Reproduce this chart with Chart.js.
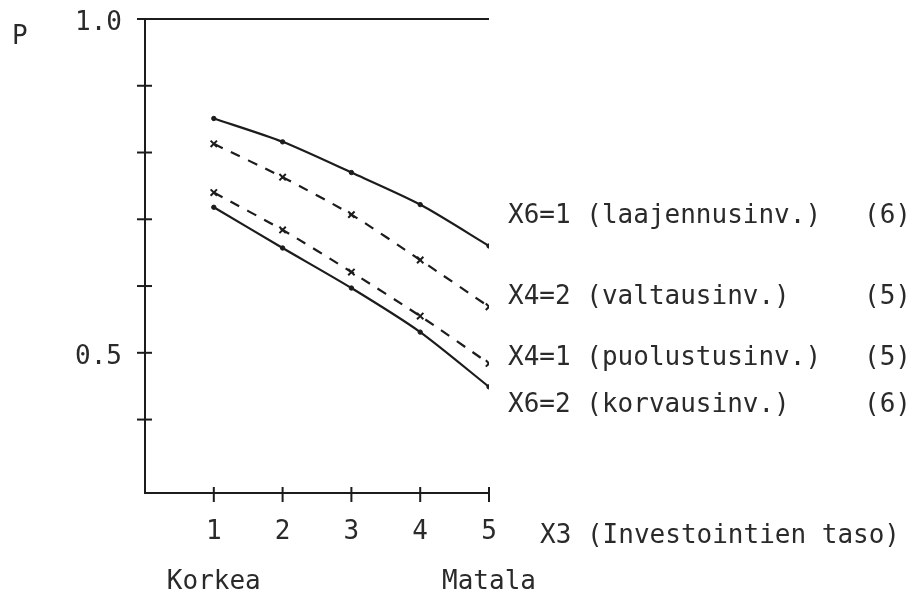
<!DOCTYPE html>
<html>
<head>
<meta charset="utf-8">
<script src="https://cdn.jsdelivr.net/npm/chart.js@4/dist/chart.umd.min.js"></script>
<style>
  html, body { margin: 0; padding: 0; background: #ffffff; }
  #wrap { width: 922px; height: 595px; position: relative; }
</style>
</head>
<body>
<div id="wrap"><canvas id="c"></canvas></div>
<script>
// ---- data ----
const xValues = [1, 2, 3, 4, 5];
const xTickLabels = ['1', '2', '3', '4', '5'];
const yTicks = [0.4, 0.5, 0.6, 0.7, 0.8, 0.9, 1.0];
const yTickLabels = ['', '0.5', '', '', '', '', '1.0'];

const seriesNames = ['X6=1 (laajennusinv.)', 'X4=2 (valtausinv.)', 'X4=1 (puolustusinv.)', 'X6=2 (korvausinv.)'];
const seriesCounts = ['(6)', '(5)', '(5)', '(6)'];
const x6eq1 = [0.851, 0.816, 0.770, 0.722, 0.660];
const x4eq2 = [0.813, 0.763, 0.707, 0.639, 0.569];
const x4eq1 = [0.740, 0.684, 0.621, 0.555, 0.484];
const x6eq2 = [0.718, 0.657, 0.597, 0.531, 0.449];

const yAxisTitle = 'P';
const xAxisTitle = 'X3 (Investointien taso)';
const xEndLabels = ['Korkea', 'Matala'];

// ---- styling / layout ----
const INK = '#1c1c1c';
const TEXT = '#2a2a2a';
const FONT = '"DejaVu Sans Mono", "Liberation Mono", monospace';
const FSIZE = 26;

function pts(ys) { return xValues.map((x, i) => ({ x: x, y: ys[i] })); }

const textPlugin = {
  id: 'textNotes',
  afterDraw(chart) {
    const ctx = chart.ctx;
    const xs = chart.scales.x, ys = chart.scales.y;
    ctx.save();
    ctx.strokeStyle = INK;
    ctx.lineWidth = 2;
    // crossing tick marks on the y axis
    ys.ticks.forEach(t => {
      const py = ys.getPixelForValue(t.value);
      ctx.beginPath(); ctx.moveTo(xs.left - 8, py); ctx.lineTo(xs.left + 7, py); ctx.stroke();
    });
    // crossing tick marks on the x axis
    xs.ticks.forEach(t => {
      const px = xs.getPixelForValue(t.value);
      ctx.beginPath(); ctx.moveTo(px, ys.bottom - 6); ctx.lineTo(px, ys.bottom + 9); ctx.stroke();
    });
    // texts
    ctx.fillStyle = TEXT;
    ctx.font = FSIZE + 'px ' + FONT;
    ctx.textBaseline = 'middle';
    ctx.textAlign = 'left';
    ctx.fillText(yAxisTitle, 12, 37);
    const labelY = [216, 297, 358, 405];
    seriesNames.forEach((n, i) => {
      ctx.textAlign = 'left';
      ctx.fillText(n, 508, labelY[i]);
      ctx.textAlign = 'right';
      ctx.fillText(seriesCounts[i], 911, labelY[i]);
    });
    ctx.textAlign = 'left';
    ctx.fillText(xAxisTitle, 540, 536);
    ctx.textAlign = 'center';
    ctx.fillText(xEndLabels[0], xs.getPixelForValue(xValues[0]), 582);
    ctx.fillText(xEndLabels[1], xs.getPixelForValue(xValues[xValues.length - 1]), 582);
    ctx.restore();
  }
};

const solid = (ys) => ({
  data: pts(ys), borderColor: INK, backgroundColor: INK, borderWidth: 2.2,
  pointStyle: 'circle', pointRadius: 2.2, pointBorderWidth: 1, tension: 0.25, fill: false
});
const dashed = (ys) => ({
  data: pts(ys), borderColor: INK, backgroundColor: INK, borderWidth: 2.2, borderDash: [10, 9],
  pointStyle: 'crossRot', pointRadius: 4.5, pointBorderWidth: 2, tension: 0.25, fill: false
});

new Chart(document.getElementById('c'), {
  type: 'line',
  data: {
    datasets: [
      Object.assign({ label: seriesNames[0] }, solid(x6eq1)),
      Object.assign({ label: seriesNames[1] }, dashed(x4eq2)),
      Object.assign({ label: seriesNames[2] }, dashed(x4eq1)),
      Object.assign({ label: seriesNames[3] }, solid(x6eq2))
    ]
  },
  options: {
    responsive: true,
    maintainAspectRatio: false,
    animation: false,
    layout: { padding: { left: 0, top: 19, right: 433, bottom: 0 } },
    plugins: { legend: { display: false }, tooltip: { enabled: false } },
    scales: {
      x: {
        type: 'linear', min: 0, max: 5,
        afterBuildTicks: (s) => { s.ticks = xValues.map(v => ({ value: v })); },
        afterFit: (s) => { s.height = 102; s.paddingLeft = 0; s.paddingRight = 0; },
        ticks: {
          callback: (v, i) => xTickLabels[i],
          color: TEXT, font: { family: FONT, size: FSIZE }, padding: 24, maxRotation: 0
        },
        grid: { display: false, drawTicks: false },
        border: { display: true, color: INK, width: 2 }
      },
      y: {
        type: 'linear', min: 0.29, max: 1.0,
        afterBuildTicks: (s) => { s.ticks = yTicks.map(v => ({ value: v })); },
        afterFit: (s) => { s.width = 145; s.paddingTop = 0; s.paddingBottom = 0; },
        ticks: {
          callback: (v, i) => yTickLabels[i],
          color: TEXT, font: { family: FONT, size: FSIZE }, padding: 23, labelOffset: 4
        },
        grid: {
          drawTicks: false,
          color: (c) => (c.tick && Math.abs(c.tick.value - 1.0) < 1e-9) ? INK : 'rgba(0,0,0,0)',
          lineWidth: 2
        },
        border: { display: true, color: INK, width: 2 }
      }
    }
  },
  plugins: [textPlugin]
});
</script>
</body>
</html>
